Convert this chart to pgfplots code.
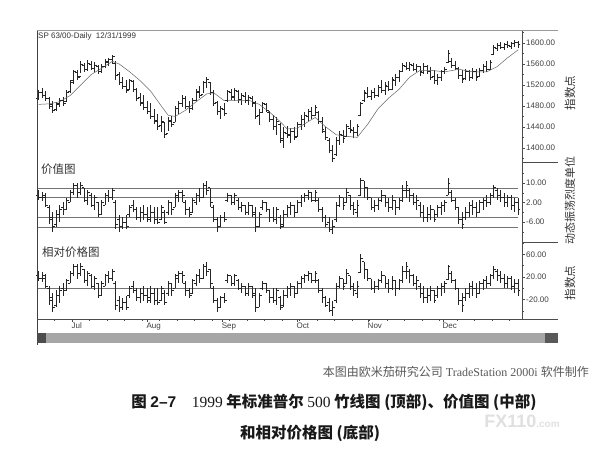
\documentclass[border=0pt]{standalone}
\usepackage{pgfplots}
\pgfplotsset{compat=1.18}
\usepackage{pgfplotstable}
\usepackage{fontspec}
\setmainfont{Liberation Serif}
\newfontfamily\arial{Liberation Sans}
\newfontfamily\cjk{Noto Sans CJK SC}
\definecolor{barc}{HTML}{262626}

\pgfplotstableread{
i h l o c
0 1510 1492 1495 1505
1 1514 1496 1505 1500
2 1508 1490 1500 1495
3 1497 1475 1495 1480
4 1490 1467 1482 1472
5 1488 1470 1474 1485
6 1495 1478 1483 1490
7 1497 1480 1490 1484
8 1510 1488 1488 1506
9 1530 1505 1508 1528
10 1549 1522 1525 1545
11 1548 1530 1544 1535
12 1565 1543 1537 1560
13 1562 1545 1558 1550
14 1568 1547 1550 1562
15 1566 1548 1560 1552
16 1564 1545 1552 1558
17 1558 1540 1555 1545
18 1560 1543 1546 1555
19 1570 1552 1555 1565
20 1572 1556 1564 1568
21 1578 1560 1568 1574
22 1565 1530 1562 1538
23 1545 1520 1540 1525
24 1535 1512 1525 1518
25 1530 1505 1518 1510
26 1532 1512 1512 1528
27 1530 1507 1526 1512
28 1515 1490 1512 1495
29 1505 1480 1496 1485
30 1500 1472 1486 1478
31 1490 1465 1478 1470
32 1485 1455 1470 1460
33 1475 1445 1460 1450
34 1465 1435 1452 1440
35 1460 1430 1442 1450
36 1450 1419 1448 1425
37 1458 1432 1428 1452
38 1460 1440 1450 1444
39 1480 1450 1448 1475
40 1490 1465 1475 1485
41 1500 1478 1484 1495
42 1498 1475 1494 1480
43 1490 1467 1480 1475
44 1495 1472 1476 1490
45 1512 1490 1490 1508
46 1518 1495 1506 1500
47 1528 1505 1502 1525
48 1535 1515 1524 1530
49 1525 1500 1524 1505
50 1510 1480 1505 1485
51 1490 1462 1486 1470
52 1480 1455 1470 1475
53 1485 1460 1474 1465
54 1510 1488 1490 1508
55 1512 1492 1505 1497
56 1514 1490 1498 1510
57 1510 1485 1508 1492
58 1505 1482 1492 1500
59 1507 1486 1498 1490
60 1500 1482 1490 1496
61 1498 1478 1495 1484
62 1490 1455 1486 1460
63 1475 1444 1462 1468
64 1488 1466 1468 1484
65 1486 1468 1482 1472
66 1470 1450 1468 1455
67 1462 1435 1455 1440
68 1458 1425 1440 1450
69 1448 1410 1445 1415
70 1440 1400 1418 1430
71 1442 1418 1428 1425
72 1438 1410 1424 1432
73 1440 1415 1432 1420
74 1450 1420 1422 1445
75 1462 1435 1445 1455
76 1468 1440 1454 1462
77 1475 1452 1460 1470
78 1478 1455 1470 1462
79 1482 1460 1462 1478
80 1470 1445 1468 1450
81 1458 1428 1450 1435
82 1440 1415 1432 1420
83 1418 1390 1415 1395
84 1405 1373 1395 1380
85 1420 1385 1388 1415
86 1432 1405 1414 1425
87 1434 1410 1424 1418
88 1445 1420 1422 1440
89 1453 1428 1438 1435
90 1440 1419 1434 1430
91 1445 1422 1430 1440
92 1488 1460 1462 1485
93 1510 1488 1490 1505
94 1516 1495 1504 1498
95 1510 1491 1498 1505
96 1514 1495 1505 1500
97 1520 1497 1500 1515
98 1530 1505 1515 1510
99 1525 1500 1510 1520
100 1528 1508 1518 1512
101 1535 1510 1512 1530
102 1540 1518 1528 1535
103 1549 1525 1535 1545
104 1562 1545 1546 1558
105 1564 1548 1556 1552
106 1563 1547 1552 1560
107 1562 1546 1558 1550
108 1560 1545 1550 1556
109 1556 1538 1555 1545
110 1562 1540 1544 1555
111 1558 1540 1556 1546
112 1555 1530 1545 1535
113 1548 1522 1536 1528
114 1540 1520 1528 1535
115 1548 1528 1534 1545
116 1555 1540 1545 1550
117 1587 1562 1564 1580
118 1572 1553 1565 1558
119 1565 1548 1558 1552
120 1555 1532 1552 1538
121 1548 1524 1538 1530
122 1550 1530 1532 1545
123 1548 1528 1545 1535
124 1552 1532 1535 1545
125 1550 1528 1545 1534
126 1552 1535 1536 1548
127 1560 1543 1548 1555
128 1565 1545 1555 1550
129 1568 1548 1550 1564
130 1596 1577 1578 1592
131 1600 1585 1590 1595
132 1602 1588 1596 1592
133 1600 1587 1592 1598
134 1603 1590 1597 1595
135 1602 1588 1594 1600
136 1605 1592 1599 1602
137 1604 1590 1602 1598
}\price

\pgfplotstableread{
i vh vl vo vc rh rl ro rc
0 7 3 5 4 30 13 22 17
1 6.5 2.5 4 5 28 11 17 22
2 6 0 4 1 26 0 17 4
3 1 -7 0 -5 4 -30 0 -22
4 -2 -10 -4 -8 -9 -43 -17 -34
5 -1 -8 -7 -3 -4 -34 -30 -13
6 1 -6 -3 -1 4 -26 -13 -4
7 2 -3 0 -1 9 -13 0 -4
8 4 -1 -1 3 17 -4 -4 13
9 7 2 2 6 30 9 9 26
10 10 5 6 9 43 22 26 39
11 10 4 9 6 43 17 39 26
12 10.5 5 6 9 45 22 26 39
13 8 2 8 3 34 9 34 13
14 7 1 3 6 30 4 13 26
15 6 0 5 1 26 0 22 4
16 5 -1 1 4 22 -4 4 17
17 2 -4 2 -3 9 -17 9 -13
18 3 -3 -3 2 13 -13 -13 9
19 6 1 1 5 26 4 4 22
20 7 2 5 4 30 9 22 17
21 8 3 4 7 34 13 17 30
22 3 -9 2 -7 13 -39 9 -30
23 -3 -10 -5 -8 -13 -43 -22 -34
24 -4 -9 -8 -6 -17 -39 -34 -26
25 -3 -9 -6 -8 -13 -39 -26 -34
26 1 -4 -3 0 4 -17 -13 0
27 3 -2 1 -1 13 -9 4 -4
28 0 -5 -1 -4 0 -22 -4 -17
29 0 -6 -4 -2 0 -26 -17 -9
30 1 -5 -2 -3 4 -22 -9 -13
31 0 -6 -3 -5 0 -26 -13 -22
32 1 -6 -4 -2 4 -26 -17 -9
33 0 -7 -2 -5 0 -30 -9 -22
34 0 -7 -5 -6 0 -30 -22 -26
35 1 -5 -5 0 4 -22 -22 0
36 -1 -7 -2 -6 -4 -30 -9 -26
37 3 -3 -2 2 13 -13 -9 9
38 2 -3 2 -1 9 -13 9 -4
39 6 0 0 5 26 0 0 22
40 7 2 4 6 30 9 17 26
41 7 2 6 5 30 9 26 22
42 3 -3 2 -1 13 -13 9 -4
43 0 -4 -1 -3 0 -17 -4 -13
44 4 -2 -2 3 17 -9 -9 13
45 6 1 2 5 26 4 9 22
46 8 2 5 4 34 9 22 17
47 10 4 4 9 43 17 17 39
48 11 5 9 7 47 22 39 30
49 8 0 8 2 34 0 34 9
50 1 -6 0 -5 4 -26 0 -22
51 -4 -10 -5 -8 -17 -43 -22 -34
52 -3 -8 -8 -4 -13 -34 -34 -17
53 -2 -6 -4 -5 -9 -26 -17 -22
54 6 2 3 5 26 9 13 22
55 5 1 5 2 22 4 22 9
56 6 1 2 5 26 4 9 22
57 4 -1 3 0 17 -4 13 0
58 2 -2 0 1 9 -9 0 4
59 1 -3 1 -2 4 -13 4 -9
60 2 -3 -2 1 9 -13 -9 4
61 1 -4 1 -3 4 -17 4 -13
62 0 -10 -2 -8 0 -43 -9 -34
63 -2 -8 -8 -3 -9 -34 -34 -13
64 3 -1 0 2 13 -4 0 9
65 2 -2 2 -1 9 -9 9 -4
66 -1 -6 -1 -4 -4 -26 -4 -17
67 0 -6 -4 -5 0 -26 -17 -22
68 0 -7 -5 -1 0 -30 -22 -4
69 -3 -9 -4 -8 -13 -39 -17 -34
70 -1 -8 -7 -3 -4 -34 -30 -13
71 1 -4 -3 0 4 -17 -13 0
72 2 -3 0 1 9 -13 0 4
73 1 -4 1 -2 4 -17 4 -9
74 3 -2 -2 2 13 -9 -9 9
75 5 0 2 4 22 0 9 17
76 6 2 4 5 26 9 17 22
77 7 3 5 6 30 13 22 26
78 6 2 6 3 26 9 26 13
79 7 2 3 6 30 9 13 26
80 4 -2 3 -1 17 -9 13 -4
81 0 -6 -1 -4 0 -26 -4 -17
82 -3 -8 -4 -7 -13 -34 -17 -30
83 -4 -10 -6 -9 -17 -43 -26 -39
84 -5 -11 -9 -8 -22 -50 -39 -34
85 2 -6 -5 1 9 -26 -22 4
86 5 0 1 4 22 0 4 17
87 4 -1 4 1 17 -4 17 4
88 8 2 2 6 34 9 9 26
89 5 -1 5 1 22 -4 22 4
90 2 -3 1 -1 9 -13 4 -4
91 3 -4 -2 1 13 -17 -9 4
92 12 5 5 11 60 28 28 52
93 11 4 11 8 47 17 47 34
94 8 3 8 4 34 13 34 17
95 4 -1 4 0 17 -4 17 0
96 3 -2 0 1 13 -9 0 4
97 4 -1 1 3 17 -4 4 13
98 7 2 3 5 30 9 13 22
99 5 0 5 2 22 0 22 9
100 4 -2 2 0 17 -9 9 0
101 5 -1 0 3 22 -4 0 13
102 3 -3 3 0 13 -13 13 0
103 4 -1 0 3 17 -4 0 13
104 9 2 3 7 39 9 13 30
105 11 4 7 9 47 17 30 39
106 8 2 7 5 34 9 30 22
107 6 1 5 2 26 4 22 9
108 5 -1 2 3 22 -4 9 13
109 2 -4 1 -2 9 -17 4 -9
110 1 -6 -2 -4 4 -26 -9 -17
111 0 -6 -4 -3 0 -26 -17 -13
112 1 -5 -3 -1 4 -22 -13 -4
113 -1 -6 -1 -5 -4 -26 -4 -22
114 1 -4 -3 0 4 -17 -13 0
115 2 -3 0 1 9 -13 0 4
116 3 -2 1 2 13 -9 4 9
117 12 5 5 10 42 15 16 38
118 7 2 6 3 30 9 26 13
119 4 -1 3 0 17 -4 13 0
120 0 -7 0 -5 0 -30 0 -22
121 -2 -9 -5 -7 -9 -42 -22 -30
122 0 -5 -4 -2 0 -22 -17 -9
123 2 -4 -2 1 9 -17 -9 4
124 3 -3 1 0 13 -13 4 0
125 2 -4 0 -2 9 -17 0 -9
126 3 -2 -2 2 13 -9 -9 9
127 4 -1 2 3 17 -4 9 13
128 5 0 3 2 22 0 13 9
129 6 1 2 5 26 4 9 22
130 9 4 5 8 39 17 22 34
131 8 3 7 5 34 13 30 22
132 7 2 5 4 30 9 22 17
133 6 0 4 2 26 0 17 9
134 5 0 2 4 22 0 9 17
135 5 -1 4 1 22 -4 17 4
136 4 -2 1 2 17 -9 4 9
137 4 -3 2 -1 17 -13 9 -4
}\osc

\newcommand\ohlc[5]{%
  \addplot[draw=none, forget plot, error bars/.cd, y dir=both, y explicit, error mark=none,
    error bar style={draw=barc, solid, line width=1.1pt}]
    table[x=i, y=#5, y error plus expr=\thisrow{#2}-\thisrow{#5}, y error minus expr=\thisrow{#5}-\thisrow{#3}] {#1};
  \addplot[only marks, forget plot, mark=-, mark size=1.2pt, mark options={xshift=-1.1pt, draw=barc, line width=0.8pt}]
    table[x=i, y=#4] {#1};
  \addplot[only marks, forget plot, mark=-, mark size=1.2pt, mark options={xshift=1.1pt, draw=barc, line width=0.8pt}]
    table[x=i, y=#5] {#1};
}

\pgfplotsset{panel/.style={scale only axis, width=485pt, xmin=-0.5, xmax=138.1,
  axis y line*=right, tick align=outside,
  major tick length=3pt, minor tick length=1.6pt,
  every tick/.style={black!70, line width=0.4pt},
  y axis line style={black!70, line width=0.6pt},
  yticklabel style={font=\arial\fontsize{8}{9}\selectfont, text=black!75, inner sep=1pt},
  clip=false}}

\begin{document}
\begin{tikzpicture}[x=1pt,y=1pt]
\useasboundingbox[fill=white] (0,0) rectangle (601,457);

% price panel
\begin{axis}[panel, axis x line=none, at={(37pt,295pt)}, anchor=south west, height=131pt,
  ymin=1373, ymax=1623,
  ytick={1400,1440,1480,1520,1560,1600},
  yticklabels={1400.00,1440.00,1480.00,1520.00,1560.00,1600.00},
  minor ytick={1380,1420,1460,1500,1540,1580,1620}]
\ohlc{\price}{h}{l}{o}{c}
\addplot[black!60, line width=0.5pt] coordinates {
(0,1483) (3,1484) (6,1488) (9,1500) (12,1520) (15,1540) (18,1552) (21,1565)
(23,1560) (26,1545) (29,1528) (32,1508) (35,1480) (37,1462) (39,1460) (42,1472)
(45,1488) (48,1503) (50,1505) (53,1490) (56,1490) (60,1491) (63,1483) (66,1468)
(69,1450) (71,1436) (74,1438) (77,1450) (79,1458) (82,1440) (85,1425) (88,1422)
(91,1420) (94,1445) (97,1475) (100,1495) (103,1512) (106,1535) (109,1548)
(112,1548) (116,1545) (120,1550) (124,1545) (128,1545) (131,1555) (134,1572) (137,1587)};
\end{axis}

% value chart panel
\begin{axis}[panel, axis x line=none, at={(37pt,215pt)}, anchor=south west, height=80pt,
  ymin=-14.2, ymax=18.6,
  ytick={-6,2,10}, yticklabels={-6.00,2.00,10.00},
  minor ytick={-10,-2,6,14}]
\addplot[black!55, line width=0.5pt, forget plot] coordinates {(-0.5,8) (137,8)};
\addplot[black!55, line width=0.5pt, forget plot] coordinates {(-0.5,4) (137,4)};
\addplot[black!55, line width=0.5pt, forget plot] coordinates {(-0.5,-4) (137,-4)};
\addplot[black!55, line width=0.5pt, forget plot] coordinates {(-0.5,-8) (137,-8)};
\ohlc{\osc}{vh}{vl}{vo}{vc}
\end{axis}

% relative price panel
\begin{axis}[panel, at={(37pt,138pt)}, anchor=south west, height=77pt,
  ymin=-54.7, ymax=82,
  ytick={-20,20,60}, yticklabels={-20.00,20.00,60.00},
  minor ytick={-40,0,40,80},
  axis x line*=bottom,
  x axis line style={black!70, line width=0.6pt, -},
  xtick={9.5,30.9,52.4,73.8,94.1,115.5},
  xticklabels={Jul,Aug,Sep,Oct,Nov,Dec},
  minor xtick={-0.5,4.5,...,135.5},
  xticklabel style={font=\arial\fontsize{8}{9}\selectfont, text=black!75, anchor=north west, xshift=-1.5pt, inner sep=1pt}]
\addplot[black!55, line width=0.5pt, forget plot] coordinates {(-0.5,0) (137,0)};
\ohlc{\osc}{rh}{rl}{ro}{rc}
\end{axis}

% frame
\draw[black!75, line width=0.8pt] (37,112) -- (37,427);
\draw[black!40, line width=0.4pt] (37,427) -- (558,427);
\draw[black!70, line width=0.6pt] (37,138) -- (558,138);
\draw[black!70, line width=0.5pt] (522,295) -- (558,295);
\draw[black!70, line width=0.5pt] (522,215) -- (558,215);
% scroll bar
\fill[black!35] (37,114) rectangle (558,124);
\fill[black!70] (37,114) rectangle (46,124);
\fill[black!65] (545,114) rectangle (558,124);

% texts
\node[anchor=west, inner sep=0pt, font=\arial\fontsize{8}{9}\selectfont, text=black!80] at (38,421) {SP 63/00-Daily\ \ 12/31/1999};
\node[anchor=west, inner sep=0pt, font=\cjk\fontsize{11.5}{12}\selectfont, text=black!80] at (41,288) {价值图};
\node[anchor=west, inner sep=0pt, font=\cjk\fontsize{11.5}{12}\selectfont, text=black!80] at (42,205) {相对价格图};
\node[rotate=90, inner sep=0pt, font=\cjk\fontsize{11.5}{12}\selectfont, text=black!80] at (570,364) {指数点};
\node[rotate=90, inner sep=0pt, font=\cjk\fontsize{11}{12}\selectfont, text=black!80] at (570,256) {动态振荡烈度单位};
\node[rotate=90, inner sep=0pt, font=\cjk\fontsize{11.5}{12}\selectfont, text=black!80] at (570,174) {指数点};

\node[anchor=east, inner sep=0pt, text=black!65, font=\fontsize{12}{13}\selectfont] at (589,85)
  {{\cjk 本图由欧米茄研究公司} TradeStation 2000i {\cjk 软件制作}};
\node[inner sep=0pt, text=black!90, font=\cjk\bfseries\fontsize{15.5}{16}\selectfont] at (334,55)
  {图 {\arial 2–7}\quad{\rmfamily\mdseries 1999} 年标准普尔 {\rmfamily\mdseries 500} 竹线图 (顶部)、价值图 (中部)};
\node[inner sep=0pt, text=black!90, font=\cjk\bfseries\fontsize{15.5}{16}\selectfont] at (310,24)
  {和相对价格图 (底部)};
\node[inner sep=0pt, text=black!12, font=\arial\bfseries\fontsize{18}{18}\selectfont] at (522,36) {FX110{\fontsize{10}{10}\selectfont .com}};
\end{tikzpicture}
\end{document}
